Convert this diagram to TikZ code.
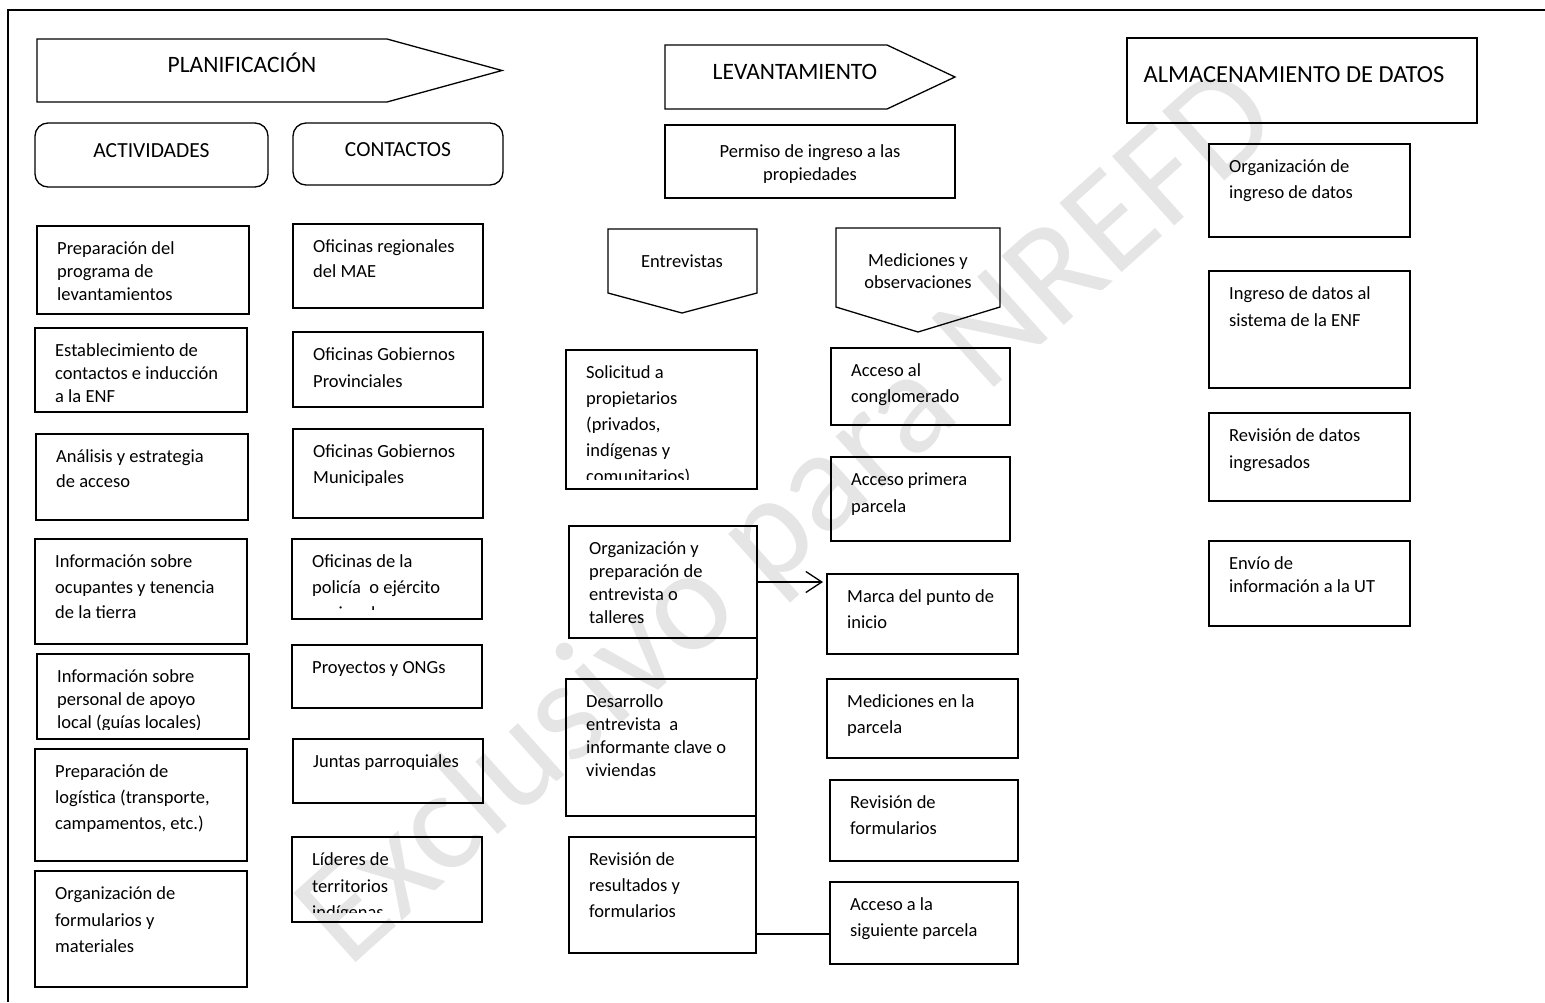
\documentclass[tikz,border=0pt]{standalone}
\usepackage{fontspec}
\setmainfont{Carlito}
\usetikzlibrary{positioning,arrows.meta}

\begin{document}
\begin{tikzpicture}[x=1pt, y=-1pt,
    cell/.style={draw, line width=1.3pt, anchor=north west, inner sep=0pt, outer sep=0pt},
    etiq/.style={anchor=north west, inner sep=0pt, align=left},
    titulo/.style={anchor=base, inner sep=0pt, font=\fontsize{23.5}{28}\selectfont},
    flecha/.style={line width=1.3pt, -{Straight Barb[length=16pt,width=21pt]}}
  ]
\useasboundingbox (0,0) rectangle (1545,1002);

% Watermark
\node[rotate=42, text=black!10, inner sep=0pt, font=\fontsize{145}{150}\selectfont] (agua) at (790,520) {Exclusivo para NREFD};

% Outer frame
\draw[line width=1.8pt] (8,1002) -- (8,10) -- (1545,10);

% Planificacion header
\draw[line width=1.3pt] (37,39) -- (387,39) -- (502,70.5) -- (387,102) -- (37,102) -- cycle;
\node[titulo] (plan) at (242,72) {PLANIFICACIÓN};
\node[cell, rounded corners=13pt, minimum width=233, minimum height=64] (activ) at (35,123) {};
\node[titulo, font=\fontsize{21.5}{26}\selectfont] (activ-t) at (activ.center |- 0,157) {ACTIVIDADES};
\node[cell, rounded corners=13pt, minimum width=210, minimum height=62] (cont) at (293,123) {};
\node[titulo, font=\fontsize{21.5}{26}\selectfont] (cont-t) at (cont.center |- 0,156) {CONTACTOS};

% Levantamiento header
\draw[line width=1.3pt] (665,45) -- (887,45) -- (955,77) -- (887,109) -- (665,109) -- cycle;
\node[titulo] (levan) at (795,79) {LEVANTAMIENTO};
\node[cell, minimum width=290, minimum height=73] (perm) at (665,125) {};
\node[etiq, anchor=north, align=center, font=\fontsize{18.5}{23.5}\selectfont] (perm-t) at (810,140.5) {\strut Permiso de ingreso a las\\propiedades};

% Entrevistas / Mediciones
\draw[line width=1.3pt] (608,229) -- (757,229) -- (757,293) -- (682,313) -- (608,293) -- cycle;
\node[titulo, font=\fontsize{18.5}{23}\selectfont] (entr) at (682,267) {Entrevistas};
\draw[line width=1.3pt] (836,228) -- (1000,228) -- (1000,307) -- (918,332) -- (836,307) -- cycle;
\node[etiq, anchor=north, align=center, font=\fontsize{18.5}{22}\selectfont] (medi) at (918,250.6) {\strut Mediciones y\\observaciones};

% Almacenamiento header
\node[cell, minimum width=350, minimum height=85] (almac) at (1127,38) {};
\node[titulo, font=\fontsize{24.5}{29}\selectfont] (almac-t) at (1294,82) {ALMACENAMIENTO DE DATOS};

% Boxes: name/x/y/width/height/line skip/text
\foreach \nm/\x/\y/\w/\h/\ls/\txt in {
    a1/37/226/212/88/23/{Preparación del\\programa de\\levantamientos},
    a2/35/328/212/84/23/{Establecimiento de\\contactos e inducción\\a la ENF},
    a3/36/434/212/86/25/{Análisis y estrategia\\de acceso},
    a4/35/539/212/105/25.5/{Información sobre\\ocupantes y tenencia\\de la tierra},
    a5/37/654/212/85/23/{Información sobre\\personal de apoyo\\local (guías locales)},
    a6/35/749/212/112/26/{Preparación de\\logística (transporte,\\campamentos, etc.)},
    a7/35/871/212/116/26.5/{Organización de\\formularios y\\materiales},
    c1/293/224/190/84/25/{Oficinas regionales\\del MAE},
    c2/293/332/190/75/27/{Oficinas Gobiernos\\Provinciales},
    c3/293/429/190/89/26/{Oficinas Gobiernos\\Municipales},
    c4/292/539/190/80/26/{Oficinas de la\\policía\ \ o ejército\\nacional},
    c5/292/645/190/63/26/{Proyectos y ONGs},
    c6/293/739/190/64/26/{Juntas parroquiales},
    c7/292/837/190/85/26.5/{Líderes de\\territorios\\indígenas},
    e1/566/350/191/139/26/{Solicitud a\\propietarios\\(privados,\\indígenas y\\comunitarios)},
    e2/569/526/188/112/23/{Organización y\\preparación de\\entrevista o\\talleres},
    e3/566/679/190/137/23/{Desarrollo\\entrevista\ \ a\\informante clave o\\viviendas},
    e4/569/837/187/116/26/{Revisión de\\resultados y\\formularios},
    m1/831/348/179/77/26/{Acceso al\\conglomerado},
    m2/831/457/179/84/27/{Acceso primera\\parcela},
    m3/827/574/191/80/26/{Marca del punto de\\inicio},
    m4/827/679/191/79/26/{Mediciones en la\\parcela},
    m5/830/780/188/81/26/{Revisión de\\formularios},
    m6/830/882/188/82/26/{Acceso a la\\siguiente parcela},
    d1/1209/144/201/93/26/{Organización de\\ingreso de datos},
    d2/1209/271/201/117/27/{Ingreso de datos al\\sistema de la ENF},
    d3/1209/413/201/88/27/{Revisión de datos\\ingresados},
    d4/1209/541/201/85/22.5/{Envío de\\información a la UT}} {
  \node[cell, minimum width=\w, minimum height=\h] (\nm) at (\x,\y) {};
  \begin{scope}
    \clip (\x,\y) rectangle (\x+\w,\y+\h-10);
    \node[etiq, font=\fontsize{18.5}{\ls}\selectfont] (\nm-t) at (\x+20,\y+28.5-0.7*\ls) {\strut\txt};
  \end{scope}
}

% Connectors
\draw[flecha, shorten >=4pt] (e2.east) -- (e2.east -| m3.west);
\draw[line width=1.3pt] (e2.south east) -- (e2.south east |- e3.north);
\draw[line width=1.3pt] (e3.south east) -- (e3.south east |- e4.north);
\coordinate (junta) at ([yshift=-11pt]m6.west);
\draw[line width=1.3pt] (e4.east |- junta) -- (junta);

\end{tikzpicture}
\end{document}
